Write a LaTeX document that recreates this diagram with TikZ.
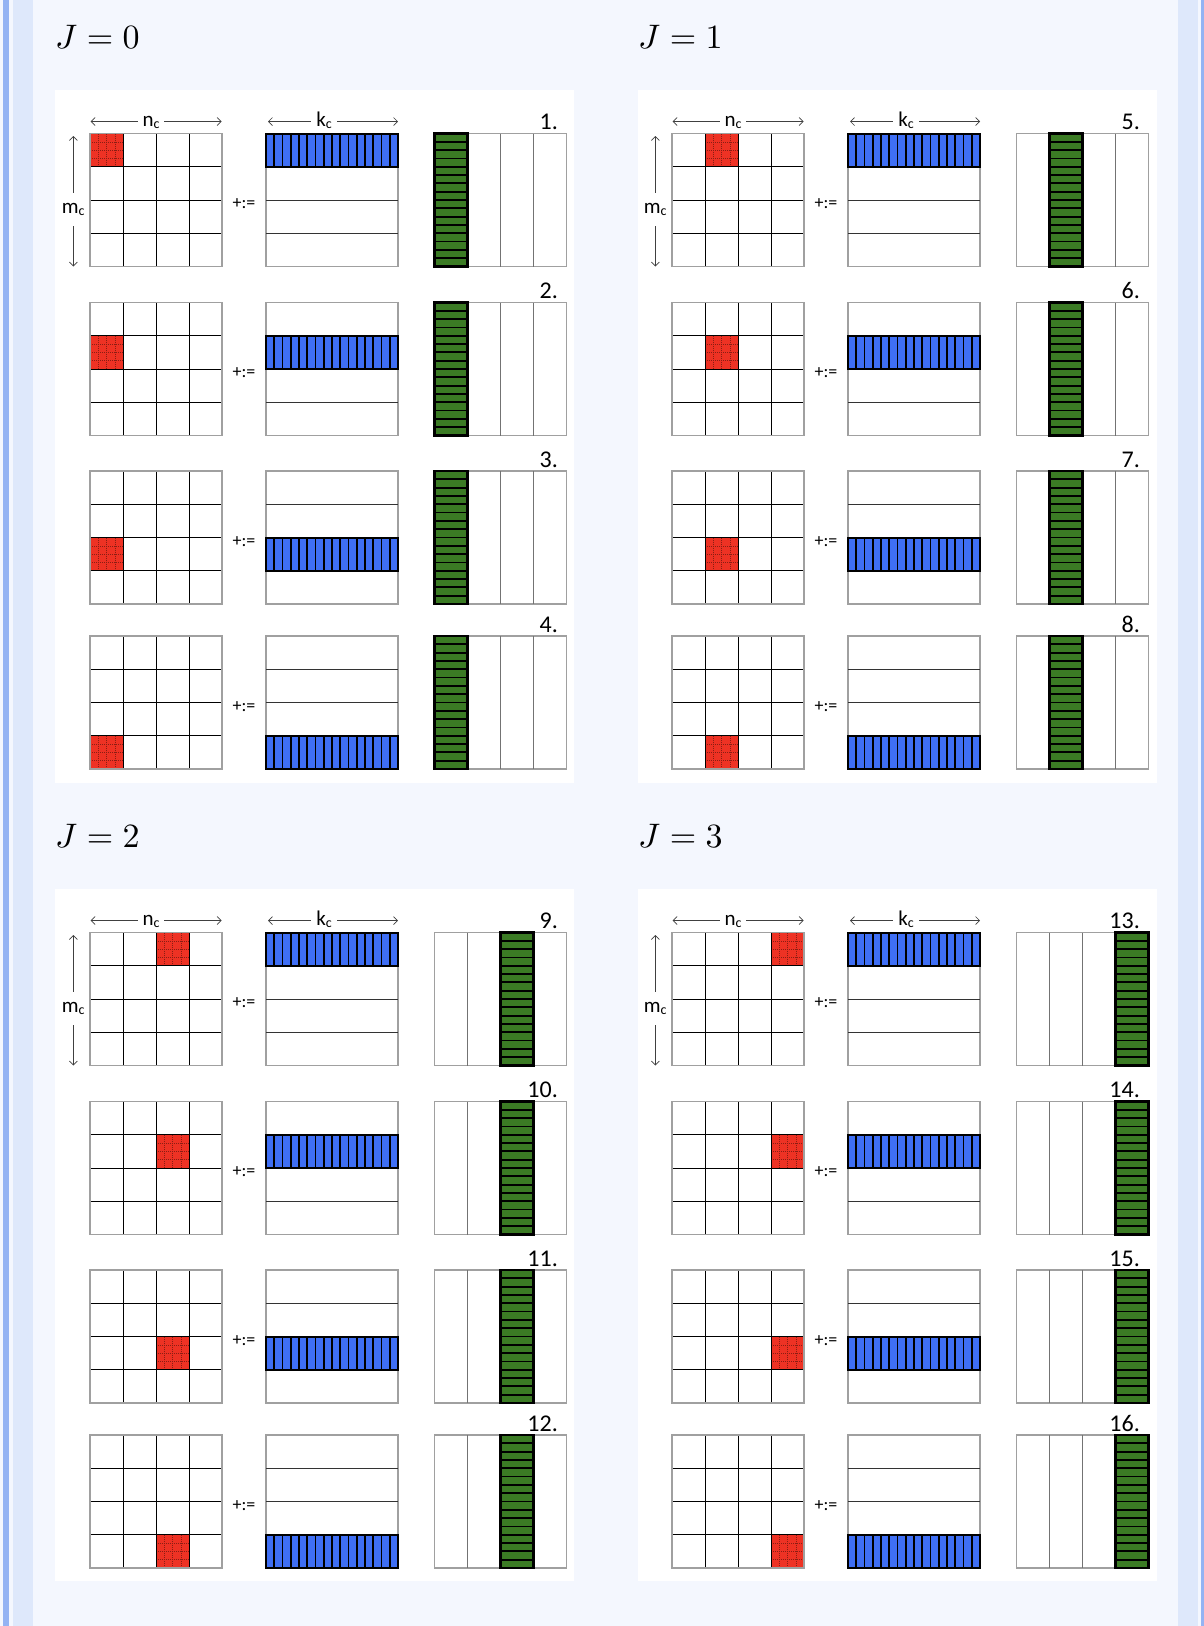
\RequirePackage{fix-cm}
\documentclass[tikz,border=0pt]{standalone}
\usepackage{fontspec}
\usepackage{graphicx}
\setsansfont{Carlito}
\usetikzlibrary{arrows.meta,calc}
\definecolor{stripe}{HTML}{94B3F3}
\definecolor{lightband}{HTML}{DEE8FB}
\definecolor{pagebg}{HTML}{F4F7FE}
\definecolor{redc}{HTML}{EE3224}
\definecolor{reddot}{HTML}{8A1E14}
\definecolor{bluer}{HTML}{3F6FF5}
\definecolor{greenc}{HTML}{3B7B24}
\definecolor{outline}{HTML}{A0A0A0}
\tikzset{
  outer/.style={draw=outline, line width=1.8pt},
  inner/.style={draw=black, line width=0.9pt},
  bline/.style={draw=black!80, line width=0.9pt},
  cline/.style={draw=black!55, line width=1pt},
  reddots/.style={draw=reddot, line width=0.5pt, dash pattern=on 1pt off 1pt},
  bluesep/.style={draw=black, line width=1.6pt},
  bluebox/.style={draw=black, line width=2pt},
  greensep/.style={draw=black, line width=1.8pt},
  greenbox/.style={draw=black, line width=2.4pt},
  dimarrow/.style={draw=black!75, line width=0.7pt,
     {Straight Barb[length=4pt,width=8pt]}-{Straight Barb[length=4pt,width=8pt]}},
  dimlabel/.style={font=\sffamily\fontsize{21}{21}\selectfont, fill=white, inner xsep=5pt, inner ysep=2pt, anchor=base},
  vlabel/.style={font=\sffamily\fontsize{21}{21}\selectfont, fill=white, inner xsep=2pt, inner ysep=10pt, anchor=base},
  steplabel/.style={font=\sffamily\fontsize{24}{24}\selectfont, anchor=base east, inner sep=0pt},
  oplabel/.style={font=\sffamily\fontsize{18}{18}\selectfont, inner sep=0pt},
  titlelabel/.style={font=\fontsize{10}{12}\selectfont, anchor=base west, inner sep=0pt},
}
\newcommand{\subc}{\raisebox{-2.5pt}{\fontsize{14}{14}\selectfont c}}
\newcommand{\bigtitle}[1]{\scalebox{3.4}{$J=#1$}}
\begin{document}
\begin{tikzpicture}[x=1pt,y=-1pt]
\useasboundingbox (0,0) rectangle (1204,1626);
% page background
\fill[pagebg] (0,0) rectangle (1204,1626);
\fill[stripe] (3,0) rectangle (9,1626);
\fill[lightband] (13,0) rectangle (33,1626);
\fill[lightband] (1178,0) rectangle (1198,1626);
\fill[stripe] (1201,0) rectangle (1204,1626);
% white panels
\fill[white] (55,90) rectangle (574,783);
\fill[white] (638,90) rectangle (1157,783);
\fill[white] (55,889) rectangle (574,1581);
\fill[white] (638,889) rectangle (1157,1581);
% titles
\node[titlelabel] (t0) at (55,48) {\bigtitle{0}};
\node[titlelabel] (t1) at (638,48) {\bigtitle{1}};
\node[titlelabel] (t2) at (55,847) {\bigtitle{2}};
\node[titlelabel] (t3) at (638,847) {\bigtitle{3}};
\foreach \J in {0,1,2,3}{
  \pgfmathsetmacro\dx{mod(\J,2)*582}
  \pgfmathsetmacro\dy{int(\J/2)*799}
  \foreach \i/\ty in {0/133.5,1/302.5,2/471,3/636}{
    \pgfmathtruncatemacro\num{4*\J+\i+1}
    \begin{scope}[shift={(\dx,\dy+\ty)}]
      % ---- A block (4x4 grid, red cell)
      \fill[redc] ({90+33*\J},{33.25*\i}) rectangle ++(33,33.25);
      \foreach \k in {1,2,3}{
        \draw[reddots] ({90+33*\J+8.25*\k},{33.25*\i}) -- ++(0,33.25);
        \draw[reddots] ({90+33*\J},{33.25*\i+8.3125*\k}) -- ++(33,0);
      }
      \foreach \k in {1,2,3}{
        \draw[inner] ({90+33*\k},0) -- ({90+33*\k},133);
        \draw[inner] (90,{33.25*\k}) -- (222,{33.25*\k});
      }
      \draw[outer] (90,0) rectangle (222,133);
      % ---- B block (rows, blue row)
      \draw[outer] (266,0) rectangle (398,133);
      \foreach \k in {1,2,3}{
        \draw[bline] (266,{33.25*\k}) -- (398,{33.25*\k});
      }
      \fill[bluer] (266,{33.25*\i}) rectangle (398,{33.25*(\i+1)});
      \foreach \k in {1,...,15}{
        \draw[bluesep] ({266+8.25*\k},{33.25*\i}) -- ++(0,33.25);
      }
      \draw[bluebox] (266,{33.25*\i}) rectangle (398,{33.25*(\i+1)});
      % ---- C block (columns, green column)
      \draw[outer] (434.5,0) rectangle (566.5,133);
      \foreach \k in {1,2,3}{
        \draw[cline] ({434.5+33*\k},0) -- ++(0,133);
      }
      \fill[greenc] ({434.5+33*\J},0) rectangle ++(33,133);
      \foreach \k in {1,...,15}{
        \draw[greensep] ({434.5+33*\J},{133/16*\k}) -- ++(33,0);
      }
      \draw[greenbox] ({434.5+33*\J},0) rectangle ++(33,133);
      % ---- operator and step number
      \node[oplabel] (op-\num) at (244,70.5) {+:=};
      \node[steplabel] (num-\num) at (558,-4) {\num.};
      % ---- dimension arrows (first row only)
      \ifnum\i=0
        \coordinate (ncL-\J) at (90.7,-12);
        \coordinate (ncR-\J) at (221.7,-12);
        \draw[dimarrow] (ncL-\J) -- (ncR-\J);
        \node[dimlabel] (nc-\J) at (151,-7.5) {n\subc};
        \coordinate (kcL-\J) at (268,-12);
        \coordinate (kcR-\J) at (398,-12);
        \draw[dimarrow] (kcL-\J) -- (kcR-\J);
        \node[dimlabel] (kc-\J) at (324,-7.5) {k\subc};
        \coordinate (mcT-\J) at (73.3,2.5);
        \coordinate (mcB-\J) at (73.3,133);
        \draw[dimarrow] (mcT-\J) -- (mcB-\J);
        \node[vlabel] (mc-\J) at (73.3,79.5) {m\subc};
      \fi
    \end{scope}
  }
}
\end{tikzpicture}
\end{document}
